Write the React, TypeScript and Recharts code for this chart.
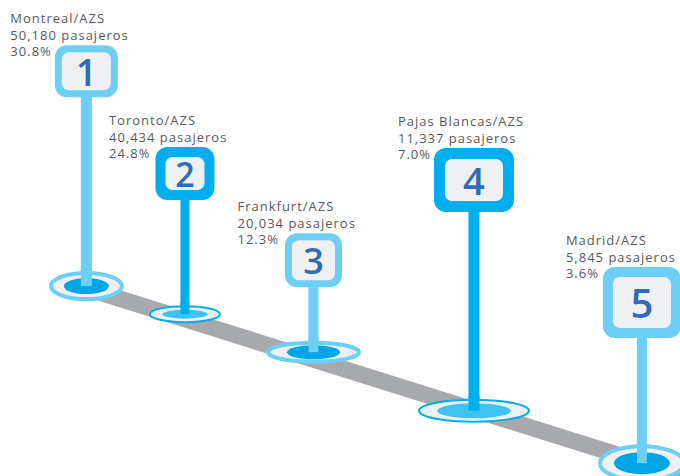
import React from 'react';
import { ComposedChart, Line, Scatter, XAxis, YAxis } from 'recharts';

// ranking data
const airports = ['Montreal/AZS', 'Toronto/AZS', 'Frankfurt/AZS', 'Pajas Blancas/AZS', 'Madrid/AZS'];
const passengers = [50180, 40434, 20034, 11337, 5845];
const shares = [30.8, 24.8, 12.3, 7.0, 3.6];
const ranks = [1, 2, 3, 4, 5];

// layout along the road (chart units, 0-100 on both axes)
const routePos = [12.7, 27.2, 46.1, 69.7, 94.4];
const groundLevel = [39.9, 34.0, 26.0, 13.7, 2.7];
const signLevel = [90.5, 69.1, 51.0, 68.9, 43.9];
const roadPath = [
  { pos: 13, v: 39.3 },
  { pos: 101, v: -0.1 },
];

const LIGHT = '#6dcff6';
const DARK = '#00aeef';
const TEXT = '#58595b';
const NUM = '#2e6cb5';
const PALE = '#eff0f2';

const pinStyle = [
  { tone: LIGHT, core: '#00a5e5', ring: 4, rx: 35.5, ry: 13, crx: 22.5, cry: 8, stem: 11, w: 63, h: 52, inset: 7, font: 37 },
  { tone: DARK, core: '#3ec4f1', ring: 2, rx: 35, ry: 8, crx: 22.5, cry: 4.5, stem: 9, w: 59, h: 53, inset: 10, font: 34 },
  { tone: LIGHT, core: '#00a5e5', ring: 4, rx: 45.5, ry: 9.5, crx: 26.5, cry: 7, stem: 10, w: 57, h: 54, inset: 7, font: 36 },
  { tone: DARK, core: '#3ec4f1', ring: 2, rx: 55, ry: 11, crx: 37, cry: 7.5, stem: 11, w: 80, h: 64, inset: 11, font: 38 },
  { tone: LIGHT, core: '#00a5e5', ring: 4, rx: 42, ry: 17, crx: 28, cry: 11, stem: 10, w: 78, h: 71, inset: 10, font: 40 },
];

const bases = ranks.map((r, i) => ({ pos: routePos[i], v: groundLevel[i], idx: i }));
const signs = ranks.map((r, i) => ({ pos: routePos[i], v: signLevel[i], idx: i }));

const BaseShape = (props: any) => {
  const { cx, cy, payload } = props;
  const s = pinStyle[payload.idx];
  const top = cy - s.ry - s.ring - 2;
  return (
    <g>
      <ellipse cx={cx} cy={cy} rx={s.rx} ry={s.ry} fill={PALE} stroke={s.tone} strokeWidth={s.ring} />
      <ellipse cx={cx} cy={cy} rx={s.crx} ry={s.cry} fill={s.core} />
      {/* the part of the post that stands inside the ring */}
      <rect x={cx - s.stem / 2} y={top} width={s.stem} height={cy - top} fill={s.tone} />
    </g>
  );
};

const fmt = (n: number) => n.toLocaleString('en-US');

const SignShape = (props: any) => {
  const { cx, cy, payload } = props;
  const i = payload.idx;
  const s = pinStyle[i];
  const x = cx - s.w / 2;
  const lx = cx - 76;
  const textStyle = { fontFamily: '"Open Sans", sans-serif', fontSize: 13, fill: TEXT, letterSpacing: 1 };
  return (
    <g>
      <rect x={x} y={cy} width={s.w} height={s.h} rx={12} fill={s.tone} />
      <rect x={x + s.inset} y={cy + s.inset} width={s.w - 2 * s.inset} height={s.h - 2 * s.inset} rx={7} fill={PALE} />
      <text
        x={cx}
        y={cy + s.h / 2}
        textAnchor="middle"
        dominantBaseline="central"
        style={{ fontFamily: '"Open Sans", sans-serif', fontSize: s.font, fontWeight: 600, fill: NUM }}
      >
        {ranks[i]}
      </text>
      <text x={lx} y={cy - 22} style={textStyle}>{airports[i]}</text>
      <text x={lx} y={cy - 5.5} style={textStyle}>{fmt(passengers[i])} pasajeros</text>
      <text x={lx} y={cy + 11} style={textStyle}>{shares[i].toFixed(1)}%</text>
    </g>
  );
};

export default function App() {
  return (
    <div style={{ position: 'absolute', left: 0, top: 0, width: 680, height: 476, background: '#fff' }}>
      <ComposedChart width={680} height={476} margin={{ top: 0, right: 0, bottom: 0, left: 0 }}>
        <XAxis type="number" dataKey="pos" domain={[0, 100]} allowDataOverflow hide />
        <YAxis type="number" dataKey="v" domain={[0, 100]} allowDataOverflow hide />
        {/* road */}
        <Line data={roadPath} dataKey="v" stroke="#a7a9ac" strokeWidth={16.5} dot={false} activeDot={false} isAnimationActive={false} />
        {/* posts */}
        {ranks.map((r, i) => (
          <Line
            key={'stem' + r}
            data={[
              { pos: routePos[i], v: groundLevel[i] },
              { pos: routePos[i], v: signLevel[i] - 5 },
            ]}
            dataKey="v"
            stroke={pinStyle[i].tone}
            strokeWidth={pinStyle[i].stem}
            strokeLinecap="butt"
            dot={false}
            activeDot={false}
            isAnimationActive={false}
          />
        ))}
        {/* pin bases */}
        <Scatter data={bases} dataKey="v" shape={BaseShape} isAnimationActive={false} />
        {/* signs + labels */}
        <Scatter data={signs} dataKey="v" shape={SignShape} isAnimationActive={false} />
      </ComposedChart>
    </div>
  );
}
